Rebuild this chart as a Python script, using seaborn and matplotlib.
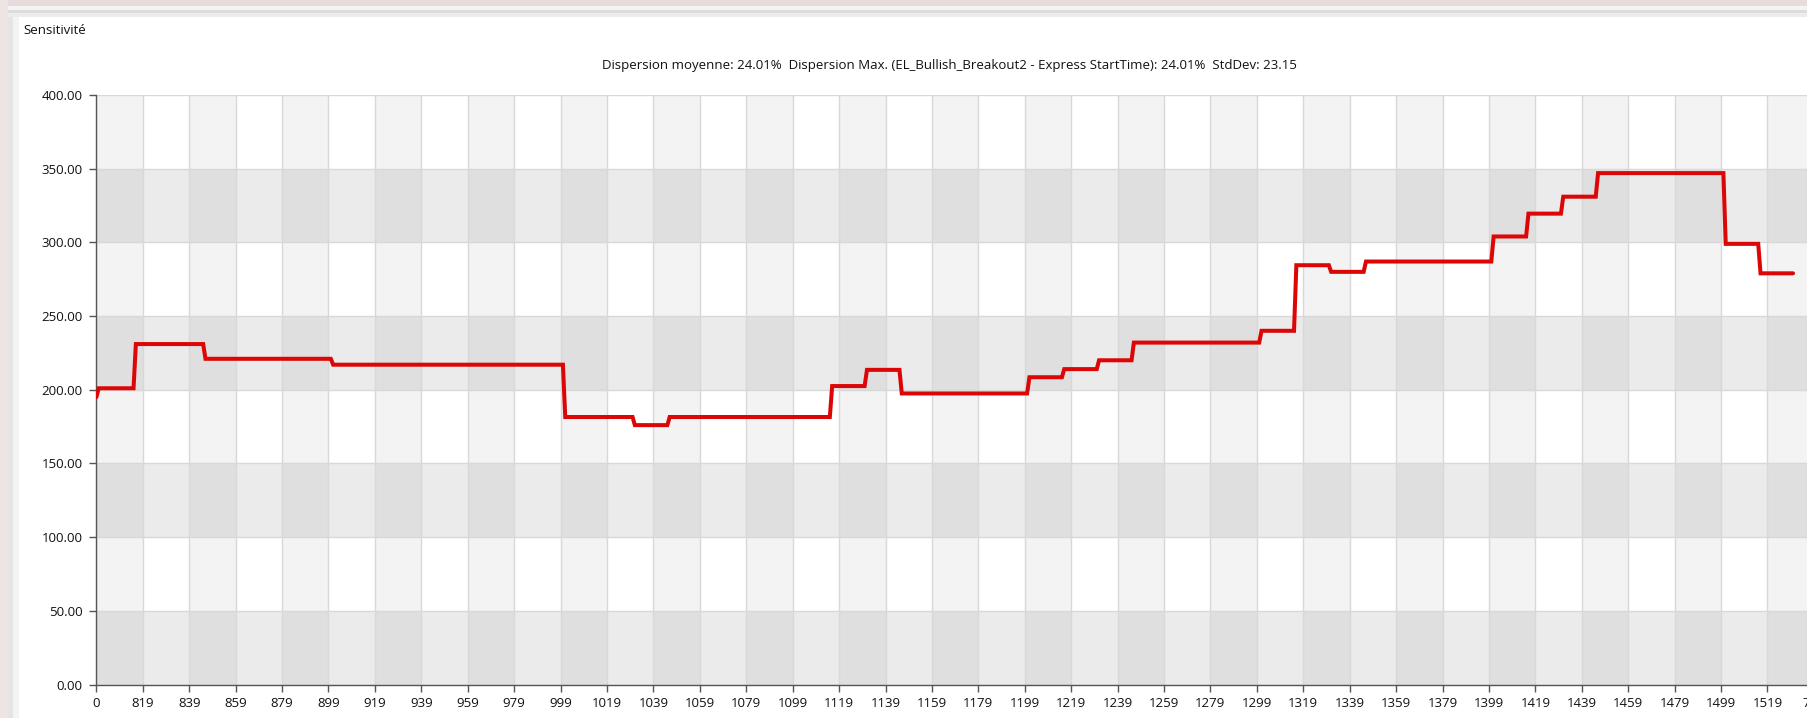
import numpy as np
import pandas as pd
import matplotlib
matplotlib.use('Agg')
import matplotlib.pyplot as plt
from matplotlib.patches import Rectangle
import seaborn as sns

# Express StartTime where each plateau of the curve begins, and the plateau value
start_time = [0, 800, 816, 846, 901, 1001, 1031, 1046, 1116, 1131, 1146,
              1201, 1216, 1231, 1246, 1301, 1316, 1331, 1346, 1401, 1416,
              1431, 1446, 1501, 1516]
sensitivity = [195, 201, 231, 221, 217, 181.5, 176, 181.5, 202.5, 213.5, 197.5,
               208.5, 214, 220, 232, 240, 284.5, 280, 287, 304, 319.5,
               331, 347, 299, 279]
end_time = 1530

x_tick_labels = ['0', '819', '839', '859', '879', '899', '919', '939', '959', '979',
                 '999', '1019', '1039', '1059', '1079', '1099', '1119', '1139',
                 '1159', '1179', '1199', '1219', '1239', '1259', '1279', '1299',
                 '1319', '1339', '1359', '1379', '1399', '1419', '1439', '1459',
                 '1479', '1499', '1519', '709']
y_ticks = [0, 50, 100, 150, 200, 250, 300, 350, 400]

title = 'Sensitivité'
subtitle = ('Dispersion moyenne: 24.01%  Dispersion Max. (EL_Bullish_Breakout2 - '
            'Express StartTime): 24.01%  StdDev: 23.15')


def cat_pos(t):
    # categorical axis: "0" first, then one slot per minute value from 800
    return 0 if t == 0 else t - 799


# one point at each end of every plateau
xs, ys = [], []
bounds = start_time[1:] + [end_time + 1]
for t0, t1, v in zip(start_time, bounds, sensitivity):
    p0 = cat_pos(t0)
    p1 = max(p0, cat_pos(t1) - 1)
    xs += [p0, p1]
    ys += [v, v]
df = pd.DataFrame({'pos': xs, 'value': ys})

sns.set_style('white')
plt.rcParams['font.family'] = ['Open Sans', 'DejaVu Sans']
plt.rcParams['font.size'] = 9.5

W, H = 1807, 718
fig = plt.figure(figsize=(W / 100, H / 100), dpi=100)
fig.patch.set_facecolor('white')

# screenshot window frame
def px_rect(x, y, w, h, color):
    fig.add_artist(Rectangle((x / W, 1 - (y + h) / H), w / W, h / H,
                             transform=fig.transFigure, color=color, lw=0, zorder=-5))

px_rect(0, 0, W, 6, '#e6dcdc')
px_rect(0, 6, W, 4, '#f4f4f4')
px_rect(0, 10, W, 3, '#dcdcdc')
px_rect(0, 13, W, 4, '#ececec')
px_rect(0, 0, 8, H, '#efe4e4')
px_rect(8, 17, 5, H, '#e4e4e4')
px_rect(13, 17, 6, H, '#f3f3f3')

step = 20  # categories between two labelled ticks
ax_left = 96.4
px_per_cat = (1767.5 - 96.4) / 720
x_max = 760
ax = fig.add_axes([ax_left / W, (H - 684.5) / H,
                   x_max * px_per_cat / W, (684.5 - 95.0) / H])
ax.set_facecolor('white')

# alternating column and row shading
for k in range(len(x_tick_labels)):
    if k % 2 == 0:
        ax.axvspan(k * step, (k + 1) * step, color='#f3f3f3', lw=0, zorder=0.1)
for y0 in y_ticks[:-1:2]:
    ax.axhspan(y0, y0 + 50, color='black', alpha=0.08, lw=0, zorder=0.2)

sns.lineplot(data=df, x='pos', y='value', ax=ax, color='#dc0606', linewidth=2.9,
             solid_joinstyle='miter', zorder=3)

ax.set_xlim(0, x_max)
ax.set_ylim(0, 400)
ax.set_xticks(np.arange(len(x_tick_labels)) * step)
ax.set_xticklabels(x_tick_labels)
ax.set_yticks(y_ticks)
ax.set_yticklabels([f'{v:.2f}' for v in y_ticks])
ax.set_xlabel('')
ax.set_ylabel('')

ax.set_axisbelow(True)
ax.grid(True, color='#d8d8d8', linewidth=1.0)
for s in ['top', 'right']:
    ax.spines[s].set_visible(False)
for s in ['left', 'bottom']:
    ax.spines[s].set_color('#555555')
    ax.spines[s].set_linewidth(1.0)
ax.tick_params(axis='both', direction='out', length=5, width=1.0, color='#555555',
               labelsize=9.5, labelcolor='#111111', left=True, bottom=True)
ax.tick_params(axis='y', pad=5)
ax.tick_params(axis='x', pad=4)

fig.text(23 / W, 1 - 31 / H, title, ha='left', va='center', fontsize=9.5, color='#111111')
fig.text(949 / W, 1 - 66 / H, subtitle, ha='center', va='center', fontsize=9.5,
         color='#111111')

fig.savefig('out.png', dpi=100)
